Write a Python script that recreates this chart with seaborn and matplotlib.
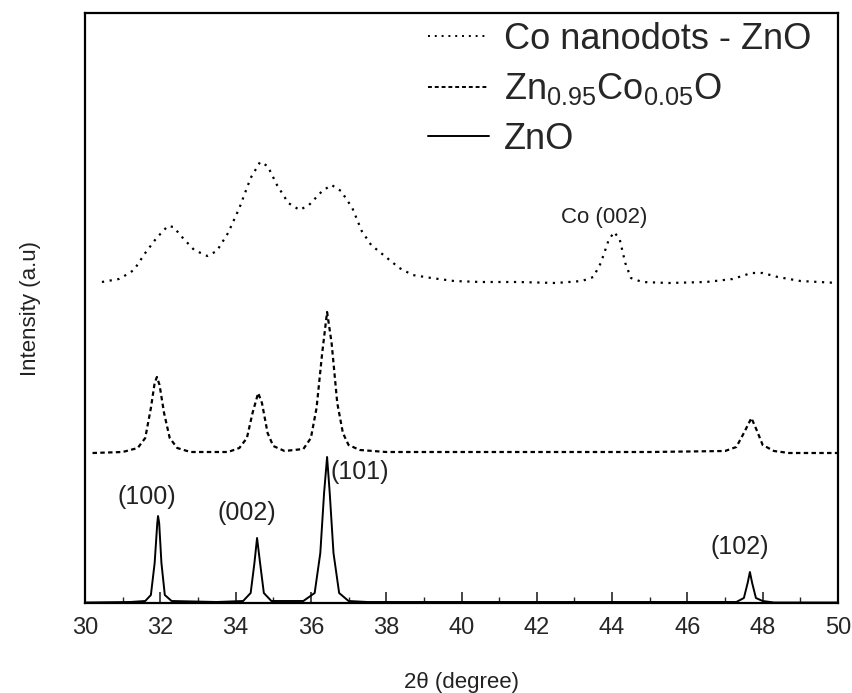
import matplotlib
matplotlib.use("Agg")
import matplotlib.pyplot as plt
import seaborn as sns
import pandas as pd
from matplotlib.ticker import MultipleLocator

# ---- data ----
zno_tt = [30.0, 31.2, 31.6, 31.75, 31.85, 31.92, 31.94, 31.97, 32.03, 32.12, 32.3,
          33.5, 34.2, 34.4, 34.5, 34.57, 34.65, 34.75, 34.95, 35.8, 36.1, 36.25,
          36.35, 36.43, 36.5, 36.6, 36.75, 37.0, 37.5, 47.3, 47.5, 47.6, 47.66,
          47.72, 47.82, 48.0, 48.3, 50.0]
zno_int = [0.5, 1, 2, 8, 40, 80, 87, 80, 40, 8, 2,
           1, 2, 10, 40, 65, 40, 10, 2, 2, 10, 50,
           110, 146, 110, 50, 10, 2, 1, 1, 5, 20, 31,
           20, 5, 2, 0.5, 0.5]

znco_tt = [30.2, 31.0, 31.4, 31.6, 31.75, 31.85, 31.91, 31.98, 32.1, 32.25, 32.45,
           32.8, 33.8, 34.1, 34.3, 34.45, 34.6, 34.7, 34.85, 35.0, 35.3, 35.8,
           36.0, 36.15, 36.3, 36.43, 36.55, 36.7, 36.85, 37.0, 37.3, 38.0, 41.0,
           45.0, 47.0, 47.3, 47.5, 47.7, 47.85, 48.0, 48.3, 48.7, 50.0]
znco_int = [150, 151, 155, 165, 195, 220, 226, 218, 190, 165, 155,
            151, 151, 155, 165, 190, 210, 200, 170, 157, 152, 154,
            165, 195, 250, 291, 260, 200, 170, 158, 153, 151, 151,
            151, 152, 156, 170, 185, 172, 158, 152, 150, 150]

codot_tt = [30.45, 30.9, 31.0, 31.3, 31.6, 31.9, 32.2, 32.35, 32.6, 32.9, 33.25,
            33.5, 33.8, 34.1, 34.4, 34.65, 34.85, 35.1, 35.4, 35.7, 35.95, 36.3,
            36.55, 36.8, 37.1, 37.35, 37.6, 38.35, 38.7, 39.2, 39.8, 40.5, 41.5,
            42.5, 43.2, 43.5, 43.7, 43.9, 44.05, 44.2, 44.35, 44.5, 44.8, 45.5,
            46.5, 47.2, 47.7, 48.0, 48.4, 49.0, 50.0]
codot_int = [321, 324, 326, 333, 350, 365, 377, 376, 365, 353, 347,
             352, 370, 395, 425, 441, 437, 418, 400, 393, 398, 412,
             418, 412, 395, 372, 358, 335, 328, 325, 322, 321, 321,
             320, 322, 326, 340, 362, 371, 364, 340, 325, 321, 320,
             321, 324, 330, 330, 326, 322, 320]

peak_labels = ["(100)", "(002)", "(101)", "(102)", "Co (002)"]
peak_label_x = [31.65, 34.3, 37.3, 47.4, 43.8]
peak_label_y = [106, 90, 131, 56, 386]
peak_label_size = [18, 18, 18, 18, 16]

series_names = ["Co nanodots - ZnO", r"Zn$_{0.95}$Co$_{0.05}$O", "ZnO"]

# ---- style ----
sns.set_style("ticks")
plt.rcParams['font.family'] = ['Liberation Sans', 'DejaVu Sans']
plt.rcParams['mathtext.default'] = 'regular'

fig = plt.figure(figsize=(8.53, 6.93), dpi=100)
ax = fig.add_axes([85/853, 1-603/693, (838-85)/853, (603-13)/693])

sns.lineplot(x=codot_tt, y=codot_int, ax=ax, color='black', lw=1.6,
             linestyle=(0, (1, 2.5)), label=series_names[0])
sns.lineplot(x=znco_tt, y=znco_int, ax=ax, color='black', lw=1.6,
             linestyle=(0, (2, 1.5)), label=series_names[1])
sns.lineplot(x=zno_tt, y=zno_int, ax=ax, color='black', lw=1.4,
             linestyle='-', label=series_names[2])

for t, xx, yy, fs in zip(peak_labels, peak_label_x, peak_label_y, peak_label_size):
    ax.text(xx, yy, t, ha='center', va='center', fontsize=fs, color='#222222')

ax.set_xlim(30, 50)
ax.set_ylim(0, 590)
ax.xaxis.set_major_locator(MultipleLocator(2))
ax.xaxis.set_minor_locator(MultipleLocator(1))
ax.set_yticks([])
ax.tick_params(axis='x', which='major', direction='in', length=8, width=1.2,
               labelsize=17, pad=10, top=False)
ax.tick_params(axis='x', which='minor', direction='in', length=4, width=1.0, top=False)
for s in ax.spines.values():
    s.set_visible(True)
    s.set_linewidth(1.6)
    s.set_color('black')

ax.set_xlabel("2θ (degree)", fontsize=16, labelpad=24, color='#222222')
ax.set_ylabel("Intensity (a.u)", fontsize=16, labelpad=32, color='#222222')

leg = ax.legend(loc='upper left', bbox_to_anchor=((428-85)/753, 0.985),
                frameon=False, handlelength=1.7, handletextpad=0.4,
                labelspacing=0.4, borderpad=0, borderaxespad=0,
                prop={'size': 26})
for line in leg.get_lines():
    line.set_linewidth(1.4)

fig.savefig("out.png", dpi=100)
